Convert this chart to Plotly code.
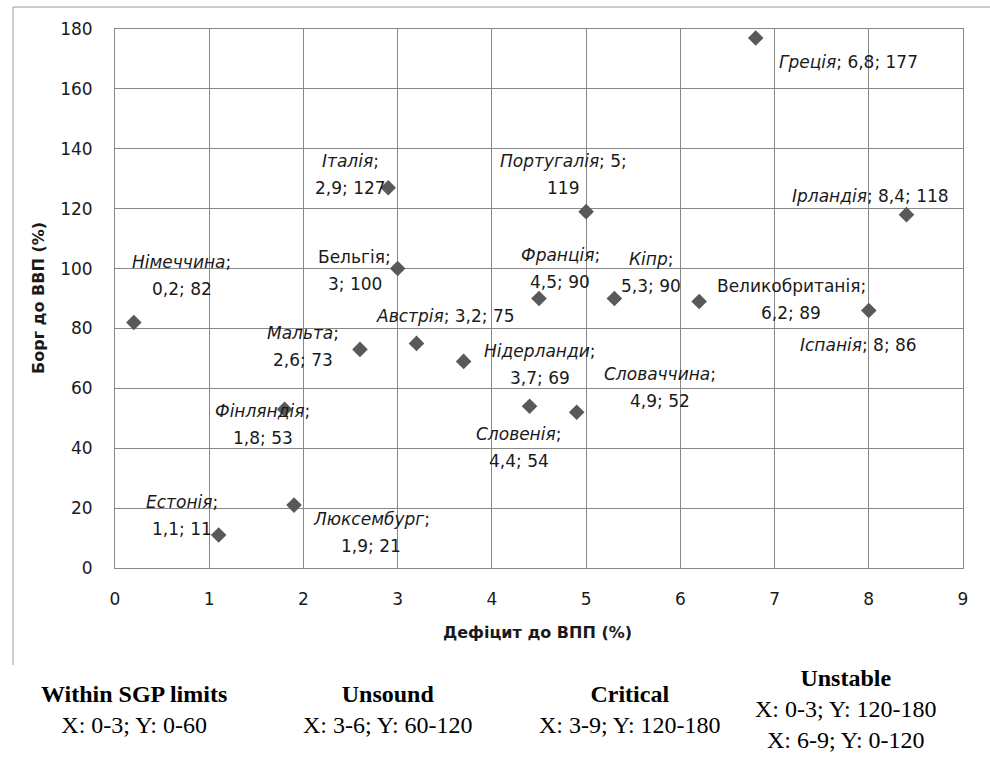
import plotly.graph_objects as go

# ---- data ----
countries = ["Німеччина", "Італія", "Бельгія", "Португалія", "Греція", "Ірландія",
             "Франція", "Кіпр", "Великобританія", "Іспанія", "Мальта", "Австрія",
             "Нідерланди", "Словенія", "Словаччина", "Фінляндія", "Естонія", "Люксембург"]
deficit = [0.2, 2.9, 3, 5, 6.8, 8.4, 4.5, 5.3, 6.2, 8, 2.6, 3.2, 3.7, 4.4, 4.9, 1.8, 1.1, 1.9]
debt = [82, 127, 100, 119, 177, 118, 90, 90, 89, 86, 73, 75, 69, 54, 52, 53, 11, 21]

x_ticks = [0, 1, 2, 3, 4, 5, 6, 7, 8, 9]
y_ticks = [0, 20, 40, 60, 80, 100, 120, 140, 160, 180]

x_title = "Дефіцит до ВПП (%)"
y_title = "Борг до ВВП (%)"

zone_titles = ["Within SGP limits", "Unsound", "Critical", "Unstable"]
zone_ranges = [["X: 0-3; Y: 0-60"], ["X: 3-6; Y: 60-120"], ["X: 3-9; Y: 120-180"],
               ["X: 0-3; Y: 120-180", "X: 6-9; Y: 0-120"]]

# ---- label styling: (dx px, dy px, line-break mode, italic name) ----
label_style = {
    "Німеччина": (48, -47, 1, True),
    "Італія": (-38, -13, 1, True),
    "Бельгія": (-43, 2, 1, False),
    "Португалія": (-23, -37, 2, True),
    "Греція": (93, 24, 0, True),
    "Ірландія": (-36, -19, 0, True),
    "Франція": (21, -30, 1, True),
    "Кіпр": (37, -26, 1, True),
    "Великобританія": (92, -2, 1, False),
    "Іспанія": (-10, 35, 0, True),
    "Мальта": (-57, -3, 1, True),
    "Австрія": (29, -27, 0, True),
    "Нідерланди": (76, 3, 1, True),
    "Словенія": (-11, 41, 1, True),
    "Словаччина": (83, -25, 1, True),
    "Фінляндія": (-22, 15, 1, True),
    "Естонія": (-37, -20, 1, True),
    "Люксембург": (77, 27, 1, True),
}

FONT = "DejaVu Sans"
GRID = "#878787"
TXT = "#1a1a1a"
LINE_GAP = 27

# plot area geometry (px)
L, R, T, B = 115, 963, 29, 568
W, H = 990, 758


def px_x(px):
    return (px - L) / (R - L)


def px_y(py):
    return (B - py) / (B - T)


def fmt(v):
    return ("%g" % v).replace(".", ",")


fig = go.Figure()
fig.add_trace(go.Scatter(
    x=deficit, y=debt, mode="markers",
    marker=dict(symbol="diamond", size=12, color="#595959"),
    showlegend=False, hoverinfo="skip",
))

annotations = []
for name, xv, yv in zip(countries, deficit, debt):
    dx, dy, brk, ital = label_style[name]
    nm = f"<i>{name}</i>" if ital else name
    parts = [nm + ";", fmt(xv) + ";", fmt(yv)]
    if brk == 0:
        lines = [" ".join(parts)]
    elif brk == 1:
        lines = [parts[0], " ".join(parts[1:])]
    else:
        lines = [" ".join(parts[:2]), parts[2]]
    n = len(lines)
    for i, ln in enumerate(lines):
        off = (i - (n - 1) / 2) * LINE_GAP
        annotations.append(dict(
            x=xv, y=yv, xref="x", yref="y", text=ln, showarrow=False,
            xanchor="center", yanchor="middle",
            xshift=dx, yshift=-(dy + off),
            font=dict(family=FONT, size=17, color=TXT),
        ))

# axis titles
annotations.append(dict(x=px_x(537), y=px_y(632), xref="paper", yref="paper",
                        text=f"<b>{x_title}</b>", showarrow=False,
                        xanchor="center", yanchor="middle",
                        font=dict(family=FONT, size=16, color=TXT)))
annotations.append(dict(x=px_x(38), y=px_y(298), xref="paper", yref="paper",
                        text=f"<b>{y_title}</b>", showarrow=False, textangle=-90,
                        xanchor="center", yanchor="middle",
                        font=dict(family=FONT, size=16, color=TXT)))

# zone descriptions below the chart (one multi-line block each)
zone_centers = [134, 388, 630, 846]
for title, rngs, cx in zip(zone_titles, zone_ranges, zone_centers):
    txt = "<br>".join([f"<b>{title}</b>"] + rngs)
    annotations.append(dict(x=px_x(cx), y=px_y(709), xref="paper", yref="paper",
                            text=txt, showarrow=False, xanchor="center", yanchor="middle",
                            align="center",
                            font=dict(family="Liberation Serif", size=24, color="#000000")))

shapes = [
    dict(type="line", xref="paper", yref="paper", x0=px_x(13), x1=px_x(13),
         y0=px_y(7), y1=px_y(665), line=dict(color="#9a9a9a", width=1)),
    dict(type="line", xref="paper", yref="paper", x0=px_x(13), x1=px_x(992),
         y0=px_y(7), y1=px_y(7), line=dict(color="#9a9a9a", width=1)),
]

fig.update_layout(
    width=W, height=H,
    margin=dict(l=L, r=W - R, t=T, b=H - B),
    paper_bgcolor="white", plot_bgcolor="white",
    annotations=annotations, shapes=shapes,
    font=dict(family=FONT, size=16, color=TXT),
)
fig.update_xaxes(range=[0, 9], tickvals=x_ticks, ticktext=[str(v) for v in x_ticks],
                 showgrid=True, gridcolor=GRID, gridwidth=1,
                 showline=True, linecolor=GRID, linewidth=1, mirror=True,
                 zeroline=False, ticks="outside", ticklen=16, tickcolor="rgba(0,0,0,0)",
                 tickfont=dict(family=FONT, size=17, color=TXT))
fig.update_yaxes(range=[0, 180], tickvals=y_ticks, ticktext=[str(v) for v in y_ticks],
                 showgrid=True, gridcolor=GRID, gridwidth=1,
                 showline=True, linecolor=GRID, linewidth=1, mirror=True,
                 zeroline=False, ticks="outside", ticklen=18, tickcolor="rgba(0,0,0,0)",
                 tickfont=dict(family=FONT, size=17, color=TXT))

fig.write_html("out.html", config={"displayModeBar": False},
               post_script="document.body.style.margin='0';document.body.style.padding='0';")
